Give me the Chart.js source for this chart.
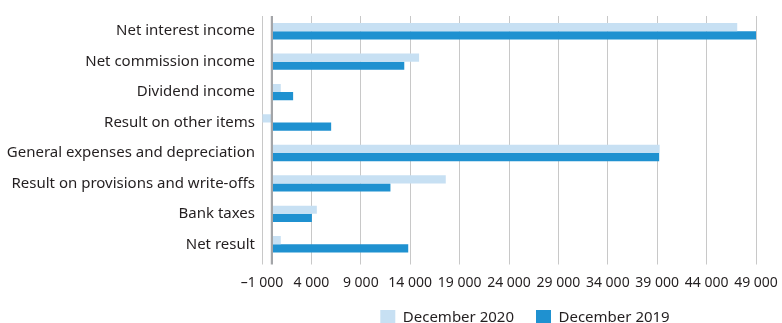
<!DOCTYPE html>
<html>
<head>
<meta charset="utf-8">
<script src="https://cdn.jsdelivr.net/npm/chart.js@4/dist/chart.umd.min.js"></script>
<style>
    html, body { margin: 0; padding: 0; background: #fff; }
    #wrap { width: 782px; height: 323px; }
</style>
</head>
<body>
<div id="wrap"><canvas id="grafico" width="782" height="323"></canvas></div>
<script>
var categorias = [
    'Net interest income',
    'Net commission income',
    'Dividend income',
    'Result on other items',
    'General expenses and depreciation',
    'Result on provisions and write-offs',
    'Bank taxes',
    'Net result'
];
var dic2020 = [47100, 14900, 900, -950, 39250, 17600, 4550, 900];
var dic2019 = [49100, 13400, 2150, 6000, 39200, 12000, 4050, 13800];
var xMin = -1000;
var xMax = 49000;
var xPaso = 5000;

// miles separados con espacio y signo menos tipográfico
function formatoMiles(v) {
    var s = Math.abs(v).toString().replace(/\B(?=(\d{3})+(?!\d))/g, ' ');
    return (v < 0 ? '\u2013' : '') + s;
}

// línea vertical más oscura en el cero
var lineaCero = {
    id: 'lineaCero',
    afterLayout: function (chart) {
        // la leyenda va centrada bajo la zona de barras
        chart.legend.left = 268;
        chart.legend.right = 782;
    },
    afterDatasetsDraw: function (chart) {
        var x = chart.scales.x.getPixelForValue(0);
        var area = chart.chartArea;
        var ctx = chart.ctx;
        ctx.save();
        ctx.strokeStyle = '#a3a5a8';
        ctx.lineWidth = 2.2;
        ctx.beginPath();
        ctx.moveTo(x, area.top);
        ctx.lineTo(x, area.bottom + 5);
        ctx.stroke();
        ctx.restore();
    }
};

Chart.defaults.font.family = '"Noto Sans", sans-serif';
Chart.defaults.color = '#231f20';

var ctx = document.getElementById('grafico').getContext('2d');
new Chart(ctx, {
    type: 'bar',
    data: {
        labels: categorias,
        datasets: [{
            label: 'December 2020',
            data: dic2020,
            backgroundColor: '#c7e0f3',
            categoryPercentage: 0.54,
            barPercentage: 1
        }, {
            label: 'December 2019',
            data: dic2019,
            backgroundColor: '#1f91d0',
            categoryPercentage: 0.54,
            barPercentage: 1
        }]
    },
    options: {
        indexAxis: 'y',
        responsive: false,
        animation: false,
        layout: { padding: { top: 15, right: 26, left: 0, bottom: -12 } },
        scales: {
            x: {
                min: xMin,
                max: xMax,
                grid: { color: '#c8c8c8', lineWidth: 1, tickLength: 5 },
                border: { display: false },
                ticks: {
                    stepSize: xPaso,
                    maxRotation: 0,
                    padding: 10,
                    font: { size: 14 },
                    callback: function (v) { return formatoMiles(v); }
                },
                afterFit: function (scale) {
                    scale.height = 28.5;
                    scale.paddingLeft = 0;
                    scale.paddingRight = 0;
                }
            },
            y: {
                grid: { display: false, drawTicks: false },
                border: { display: false },
                ticks: { padding: 7, font: { size: 15 } },
                afterFit: function (scale) { scale.width = 262; }
            }
        },
        plugins: {
            legend: {
                position: 'bottom',
                labels: {
                    boxWidth: 15,
                    boxHeight: 15,
                    padding: 22,
                    font: { size: 15 }
                }
            },
            tooltip: { enabled: false }
        }
    },
    plugins: [lineaCero]
});
</script>
</body>
</html>
